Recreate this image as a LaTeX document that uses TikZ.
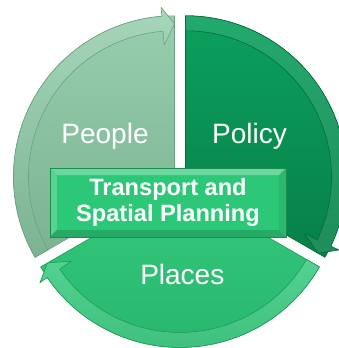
\documentclass[tikz,border=0pt]{standalone}
\usepackage{fontspec}
\setmainfont{Liberation Sans}
\definecolor{peopletop}{HTML}{97CFAE}
\definecolor{peoplebot}{HTML}{7BB392}
\definecolor{peopleedge}{HTML}{6E9F81}
\definecolor{policytop}{HTML}{0BA05D}
\definecolor{policybot}{HTML}{078048}
\definecolor{policyedge}{HTML}{056B3B}
\definecolor{placestop}{HTML}{34CA7E}
\definecolor{placesbot}{HTML}{26B46A}
\definecolor{placesedge}{HTML}{1E9A58}
\definecolor{coreface}{HTML}{2DC877}
\definecolor{coreedge}{HTML}{1A8C50}
\tikzset{
	x=1pt,
	y=1pt,
	segment/.style={line width=0.6pt, line join=round},
	peoplepie/.style={segment, top color=peopletop, bottom color=peoplebot, draw=peopleedge},
	peopleband/.style={segment, top color=peopletop!85!white, bottom color=peoplebot, draw=peopleedge},
	policypie/.style={segment, top color=policytop, bottom color=policybot, draw=policyedge},
	policyband/.style={segment, top color=policytop!90!white, bottom color=policybot!90!white, draw=policyedge},
	placespie/.style={segment, top color=placestop, bottom color=placesbot, draw=placesedge},
	placesband/.style={segment, top color=placestop!85!white, bottom color=placesbot!90!white, draw=placesedge},
	seglabel/.style={
		text=white,
		anchor=base,
		inner sep=0pt,
		font=\fontsize{28}{32}\selectfont
	},
	corebox/.style={
		draw=coreedge,
		line width=0.8pt,
		fill=coreface,
		minimum width=236pt,
		minimum height=69pt,
		inner sep=0pt,
		align=center,
		text=white,
		font=\fontsize{23.6}{25.6}\selectfont\bfseries,
		path picture={
			\fill [coreface!70!white] (path picture bounding box.north west) -- (path picture bounding box.north east)
				-- ([xshift=-7pt,yshift=-7pt]path picture bounding box.north east) -- ([xshift=7pt,yshift=-7pt]path picture bounding box.north west) -- cycle;
			\fill [coreface!80!white] (path picture bounding box.north west) -- (path picture bounding box.south west)
				-- ([xshift=7pt,yshift=7pt]path picture bounding box.south west) -- ([xshift=7pt,yshift=-7pt]path picture bounding box.north west) -- cycle;
			\fill [coreface!85!black] (path picture bounding box.south west) -- (path picture bounding box.south east)
				-- ([xshift=-7pt,yshift=7pt]path picture bounding box.south east) -- ([xshift=7pt,yshift=7pt]path picture bounding box.south west) -- cycle;
			\fill [coreface!92!black] (path picture bounding box.north east) -- (path picture bounding box.south east)
				-- ([xshift=-7pt,yshift=7pt]path picture bounding box.south east) -- ([xshift=-7pt,yshift=-7pt]path picture bounding box.north east) -- cycle;
		}
	}
}

\begin{document}
\begin{tikzpicture}[x=1pt,y=1pt]
	\useasboundingbox (-180,-168) rectangle (158,180);
	\coordinate (cpeople) at (-5.5,3.2);
	\coordinate (cpolicy) at (5.5,3.2);
	\coordinate (cplaces) at (0,-6.4);

	% people
	\begin{scope}[shift={(cpeople)}]
		\shadedraw [peoplepie] (0,0) -- (210:161) arc [start angle=210, end angle=90, radius=161] -- cycle;
		\shadedraw [peopleband] (210:146) arc [start angle=210, end angle=94.5, radius=146]
			-- (94.5:132) -- (90:153) -- (94.5:170) -- (94.5:161) arc [start angle=94.5, end angle=210, radius=161] -- cycle;
	\end{scope}

	% policy
	\begin{scope}[shift={(cpolicy)}]
		\shadedraw [policypie] (0,0) -- (90:161) arc [start angle=90, end angle=-30, radius=161] -- cycle;
		\shadedraw [policyband] (90:146) arc [start angle=90, end angle=-25.5, radius=146]
			-- (-25.5:132) -- (-30:153) -- (-25.5:170) -- (-25.5:161) arc [start angle=-25.5, end angle=90, radius=161] -- cycle;
	\end{scope}

	% places
	\begin{scope}[shift={(cplaces)}]
		\shadedraw [placespie] (0,0) -- (330:161) arc [start angle=330, end angle=210, radius=161] -- cycle;
		\shadedraw [placesband] (330:146) arc [start angle=330, end angle=214.5, radius=146]
			-- (214.5:132) -- (210:153) -- (214.5:170) -- (214.5:161) arc [start angle=214.5, end angle=330, radius=161] -- cycle;
	\end{scope}

	\node [corebox] (core) at (-12,-22.5) {Transport and\\Spatial Planning};

	\node [seglabel] (people) at (-75,36) {People};
	\node [seglabel] (policy) at (69.5,36) {Policy};
	\node [seglabel] (places) at (2.3,-104) {Places};
\end{tikzpicture}
\end{document}
